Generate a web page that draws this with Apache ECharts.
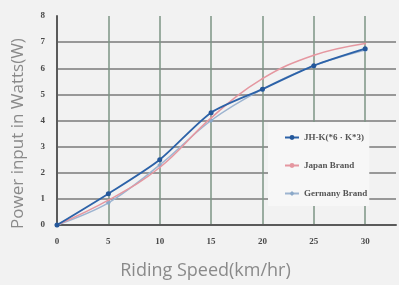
<!DOCTYPE html>
<html>
<head>
<meta charset="utf-8">
<script src="https://cdn.jsdelivr.net/npm/echarts@6/dist/echarts.min.js"></script>
<style>
  html, body { margin: 0; padding: 0; background: #f2f2f2; }
  #chart { width: 399px; height: 285px; }
</style>
</head>
<body>
<div id="chart"></div>
<script>
// riding speed in km/hr
const speeds = [0, 5, 10, 15, 20, 25, 30];
const seriesNames = ['JH-K(*6 · K*3)', 'Japan Brand', 'Germany Brand'];
const jhValues = [0, 1.2, 2.5, 4.3, 5.2, 6.1, 6.75];
const japanValues = [0, 0.95, 2.2, 4.1, 5.6, 6.5, 6.95];
const germanyValues = [0, 0.85, 2.3, 4.0, 5.2, 6.1, 6.7];

const pairs = (vals) => speeds.map((s, i) => [s, vals[i]]);

let chart = echarts.init(document.getElementById('chart'));
let option = {
  backgroundColor: '#f2f2f2',
  animation: false,
  grid: {
    left: 57,
    right: 0,
    top: 16,
    bottom: 59
  },
  legend: {
    orient: 'vertical',
    left: 268,
    top: 122,
    padding: [11, 2, 8, 16],
    itemGap: 19,
    itemWidth: 14,
    itemHeight: 6,
    backgroundColor: '#f7f7f7',
    textStyle: {
      fontFamily: 'Liberation Serif',
      fontWeight: 'bold',
      fontSize: 9,
      color: '#555'
    },
    data: seriesNames
  },
  xAxis: {
    type: 'value',
    min: 0,
    max: 33,
    interval: 5,
    name: 'Riding Speed(km/hr)',
    nameLocation: 'middle',
    nameGap: 37,
    nameTextStyle: {
      fontFamily: 'Open Sans',
      fontSize: 18,
      color: '#8a8a8a',
      padding: [0, 42, 0, 0]
    },
    axisLine: { lineStyle: { color: '#5a5a5a', width: 2 } },
    axisTick: { show: false },
    axisLabel: {
      margin: 12,
      fontFamily: 'Liberation Serif',
      fontWeight: 'bold',
      fontSize: 9,
      color: '#4a4a4a',
      formatter: (v) => (v % 5 === 0 ? String(v) : '')
    },
    splitLine: {
      show: true,
      lineStyle: {
        width: 1.5,
        color: ['#7d9484', '#7d9484', '#7d9484', '#7d9484', '#7d9484', '#7d9484', '#7d9484', 'rgba(0,0,0,0)']
      }
    }
  },
  yAxis: {
    type: 'value',
    min: 0,
    max: 8,
    interval: 1,
    name: 'Power input in Watts(W)',
    nameLocation: 'middle',
    nameRotate: 90,
    nameGap: 30,
    nameTextStyle: {
      fontFamily: 'Open Sans',
      fontSize: 17,
      color: '#8a8a8a',
      padding: [0, 26, 0, 0]
    },
    axisLine: { show: true, lineStyle: { color: '#5a5a5a', width: 2 } },
    axisTick: { show: false },
    axisLabel: {
      margin: 12,
      fontFamily: 'Liberation Serif',
      fontWeight: 'bold',
      fontSize: 9,
      color: '#4a4a4a'
    },
    splitLine: {
      show: true,
      lineStyle: {
        width: 1.5,
        color: ['#7a7a7a', '#7a7a7a', '#7a7a7a', '#7a7a7a', '#7a7a7a', '#7a7a7a', '#7a7a7a', '#7a7a7a', 'rgba(0,0,0,0)']
      }
    }
  },
  series: [
    {
      name: seriesNames[0],
      type: 'line',
      smooth: 0.25,
      symbol: 'circle',
      symbolSize: 5,
      z: 4,
      itemStyle: { color: '#24579a' },
      lineStyle: { color: '#2c62a8', width: 1.8 },
      data: pairs(jhValues)
    },
    {
      name: seriesNames[1],
      type: 'line',
      smooth: 0.4,
      symbol: 'circle',
      symbolSize: 2,
      z: 3,
      itemStyle: { color: '#e597a0' },
      lineStyle: { color: '#e597a0', width: 1.5 },
      data: pairs(japanValues)
    },
    {
      name: seriesNames[2],
      type: 'line',
      smooth: 0.35,
      symbol: 'diamond',
      symbolSize: 5,
      z: 2,
      itemStyle: { color: '#8aa8c8' },
      lineStyle: { color: '#9db4d0', width: 1.5 },
      data: pairs(germanyValues)
    }
  ]
};
chart.setOption(option);
</script>
</body>
</html>
